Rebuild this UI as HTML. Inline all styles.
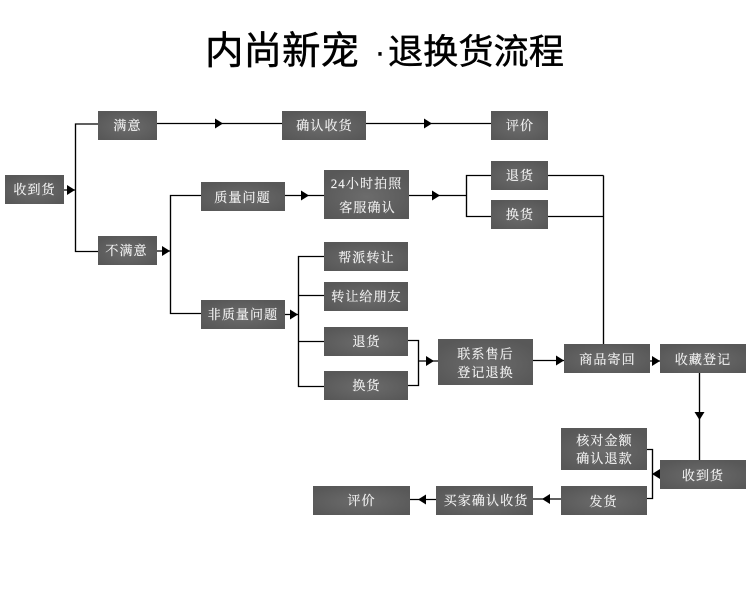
<!DOCTYPE html>
<html lang="zh"><head><meta charset="utf-8">
<style>html,body{margin:0;padding:0;background:#fff;width:750px;height:600px;overflow:hidden}svg{display:block}
.b{fill:url(#g)}
.t{font-family:"Liberation Serif","Noto Serif CJK SC",serif;font-size:13px;letter-spacing:1.1px;fill:#f4f4f4;stroke:#f4f4f4;stroke-width:0.15;text-anchor:middle}
.l{stroke:#000;stroke-width:1.35;fill:none}
.h{font-family:"Liberation Sans","Noto Sans CJK SC",sans-serif;fill:#000;stroke:#000;stroke-width:0.45}
</style></head><body>
<svg width="750" height="600" viewBox="0 0 750 600" xmlns="http://www.w3.org/2000/svg">
<defs><radialGradient id="g" cx="50%" cy="55%" r="60%"><stop offset="0" stop-color="#6c6c6c"/><stop offset="1" stop-color="#585858"/></radialGradient></defs>
<rect width="750" height="600" fill="#fff"/>
<text class="h" x="205" y="64" font-size="38.5">内尚新宠</text>
<text class="h" x="380" y="62" font-size="30" text-anchor="middle">·</text>
<text class="h" x="388" y="64" font-size="35.2">退换货流程</text>

<g class="l">
<path d="M64 190H75.500M98 124H75.500V251.500H98"/>
<path d="M157 123.500H282M366 123.500H491"/>
<path d="M157 251H170.500M201 195.500H170.500V313.500H201"/>
<path d="M285 195.500H324M409 195.500H466.500M491 175.500H466.500V216.500H491"/>
<path d="M548 175.500H603.500M548 216.500H603.500M603.500 175.500V344"/>
<path d="M285 314.500H298.500M324 256.500H298.500V386.500H324M298.500 295.500H324M298.500 341.500H324"/>
<path d="M408 340.500H418.500V385.500H408M418.500 361H438"/>
<path d="M533 360.500H564M650 361H660"/>
<path d="M699.500 373V460"/>
<path d="M647 449.500H652.500V498.500H647M652.500 474H660"/>
<path d="M561 499H533M436 499.500H410"/>
</g>
<g fill="#000">
<path d="M67 185V195L75 190Z"/>
<path d="M215 118.500V128.500L223 123.500Z"/>
<path d="M424 118.500V128.500L432 123.500Z"/>
<path d="M162 246V256L170 251Z"/>
<path d="M301 190.500V200.500L309 195.500Z"/>
<path d="M432 190.500V200.500L440 195.500Z"/>
<path d="M290 309.500V319.500L298 314.500Z"/>
<path d="M426 356V366L434 361Z"/>
<path d="M556 355.500V365.500L564 360.500Z"/>
<path d="M652 356V366L660 361Z"/>
<path d="M694.500 412H704.500L699.500 420Z"/>
<path d="M660 469V479L652 474Z"/>
<path d="M550 494V504L542 499Z"/>
<path d="M426 494.500V504.500L418 499.500Z"/>
</g>

<g>
<rect class="b" x="5" y="175" width="59" height="29"/>
<rect class="b" x="98" y="111" width="59" height="29"/>
<rect class="b" x="282" y="111" width="84" height="29"/>
<rect class="b" x="491" y="111" width="57" height="29"/>
<rect class="b" x="98" y="236" width="59" height="29"/>
<rect class="b" x="201" y="182" width="84" height="29"/>
<rect class="b" x="324" y="170" width="85" height="49"/>
<rect class="b" x="491" y="161" width="57" height="29"/>
<rect class="b" x="491" y="200" width="57" height="29"/>
<rect class="b" x="324" y="242" width="84" height="29"/>
<rect class="b" x="324" y="282" width="84" height="29"/>
<rect class="b" x="201" y="300" width="84" height="29"/>
<rect class="b" x="324" y="327" width="84" height="29"/>
<rect class="b" x="324" y="371" width="84" height="29"/>
<rect class="b" x="438" y="339" width="95" height="46"/>
<rect class="b" x="564" y="344" width="86" height="29"/>
<rect class="b" x="660" y="344" width="86" height="29"/>
<rect class="b" x="561" y="428" width="86" height="42"/>
<rect class="b" x="660" y="460" width="86" height="29"/>
<rect class="b" x="561" y="486" width="86" height="29"/>
<rect class="b" x="436" y="486" width="97" height="29"/>
<rect class="b" x="313" y="486" width="97" height="29"/>
</g>
<g>
<text class="t" x="34.500" y="194">收到货</text>
<text class="t" x="127.500" y="130">满意</text>
<text class="t" x="324.500" y="130">确认收货</text>
<text class="t" x="520" y="130">评价</text>
<text class="t" x="126.500" y="255">不满意</text>
<text class="t" x="242.500" y="202">质量问题</text>
<text class="t" x="366.500" y="188">24小时拍照</text>
<text class="t" x="367.500" y="212">客服确认</text>
<text class="t" x="520" y="180">退货</text>
<text class="t" x="520" y="219">换货</text>
<text class="t" x="366.500" y="262">帮派转让</text>
<text class="t" x="366.500" y="301">转让给朋友</text>
<text class="t" x="243" y="319">非质量问题</text>
<text class="t" x="366.500" y="346">退货</text>
<text class="t" x="366.500" y="390">换货</text>
<text class="t" x="485.500" y="358.500">联系售后</text>
<text class="t" x="485.500" y="377">登记退换</text>
<text class="t" x="607.500" y="364">商品寄回</text>
<text class="t" x="703" y="364">收藏登记</text>
<text class="t" x="604.500" y="445">核对金额</text>
<text class="t" x="604.500" y="463">确认退款</text>
<text class="t" x="703" y="480">收到货</text>
<text class="t" x="603.500" y="506">发货</text>
<text class="t" x="486" y="505">买家确认收货</text>
<text class="t" x="361.500" y="505">评价</text>
</g>
</svg>
</body></html>
